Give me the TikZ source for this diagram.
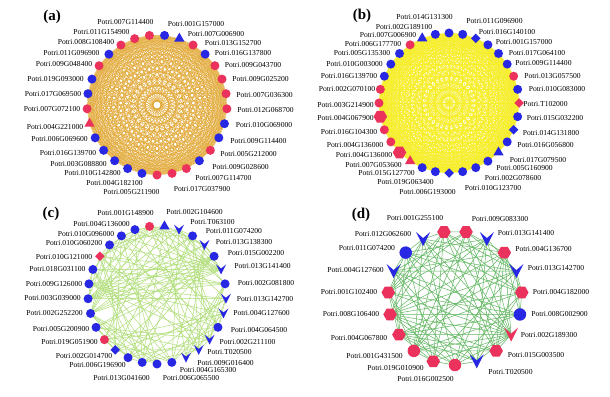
\documentclass[tikz,border=0pt]{standalone}
\usepackage{fontspec}
\setmainfont{Liberation Serif}
\usetikzlibrary{shapes.geometric,calc}
\pgfdeclarelayer{back}
\pgfdeclarelayer{bg}
\pgfsetlayers{back,bg,main}
\definecolor{nr}{RGB}{234,50,92}
\definecolor{nb}{RGB}{40,40,228}
\definecolor{ea}{RGB}{226,168,52}
\definecolor{eb}{RGB}{246,238,40}
\definecolor{ec}{RGB}{176,222,120}
\definecolor{ed}{RGB}{96,182,96}
\tikzset{
  nd/.style={inner sep=0pt, outer sep=0pt, draw=none},
  cir/.style={nd, circle, minimum size=9pt},
  cirL/.style={nd, circle, minimum size=12.5pt},
  tri/.style={nd, regular polygon, regular polygon sides=3, minimum size=12pt},
  dia/.style={nd, diamond, minimum size=9.5pt},
  hex/.style={nd, regular polygon, regular polygon sides=6, minimum size=13.5pt},
  chevshape/.style={nd, rectangle, fill=none, minimum size=10pt,
    path picture={\fill[#1] (path picture bounding box.north west) -- (path picture bounding box.south) -- (path picture bounding box.north east) -- ($(path picture bounding box.center)+(0pt,1pt)$) -- cycle;}},
  chevB/.style={chevshape=nb},
  chevLB/.style={chevshape=nb, minimum size=14pt},
  chevLR/.style={chevshape=nr, minimum size=14pt},
  lab/.style={font=\fontsize{7.6}{8}\selectfont, inner sep=0pt},
  ttl/.style={font=\fontsize{15}{16}\selectfont\bfseries, inner sep=0pt},
  edA/.style={draw=ea, line width=0.35pt},
  edB/.style={draw=eb, line width=0.45pt},
  edC/.style={draw=ec, line width=0.5pt},
  edD/.style={draw=ed, line width=0.5pt},
}
\begin{document}
\begin{tikzpicture}[x=1pt,y=-1pt]
\useasboundingbox (0,0) rectangle (610,396);
\begin{pgfonlayer}{back}
\fill[white] (0,0) rectangle (610,396);
\end{pgfonlayer}

% ---------- panel titles
\node[ttl] (ta) at (52,16.5) {(a)};
\node[ttl] (tb) at (362,16) {(b)};
\node[ttl] (tc) at (51,214) {(c)};
\node[ttl] (td) at (361,215) {(d)};

% ---------- panel (a)
\foreach \s/\c/\t/\lx/\ly [count=\i from 0] in {
 cir/nr/007G114400/125.5/22, cir/nr/011G154900/101.5/32, cir/nr/008G108400/86/42,
 cir/nb/011G096900/71.5/53, cir/nr/009G048400/64/64, cir/nb/019G093000/55.5/79,
 cir/nb/017G069500/53/94, cir/nr/007G072100/52/109, tri/nr/004G221000/55/127,
 cir/nb/006G069600/59.5/139, cir/nb/016G139700/68/153, cir/nb/003G088800/78.5/164,
 cir/nb/010G142800/92.5/173, cir/nb/004G182100/114.5/183, cir/nr/005G211900/131.5/192,
 cir/nr/017G037900/202/189, cir/nr/007G114700/223.5/178, cir/nb/009G028600/240.5/167,
 cir/nr/005G212000/248.5/154, cir/nb/009G114400/258.5/141, cir/nb/010G069000/264/125,
 cir/nr/012G068700/265.5/110, cir/nr/007G036300/264.5/95, cir/nr/009G025200/260.5/79,
 cir/nr/009G043700/253/65, cir/nb/016G137800/243/53, cir/nr/013G152700/233/43,
 tri/nb/007G006900/216/34, cir/nb/001G157000/196/24}{
  \node[fill=\c,\s] (a\i) at ({157+70*cos(96.21+12.414*\i)},{105-70*sin(96.21+12.414*\i)}) {};
  \node[lab] (la\i) at (\lx,\ly) {Potri.\t};
}
\begin{pgfonlayer}{bg}
\foreach \i in {0,...,27}{
  \pgfmathtruncatemacro\ii{\i+1}
  \foreach \j in {\ii,...,28}{\draw[edA] (a\i.center) -- (a\j.center);}
}
\end{pgfonlayer}

% ---------- panel (b)
\foreach \s/\c/\t/\lx/\ly [count=\i from 0] in {
 cir/nb/014G131300/424.5/17, cir/nb/002G189100/404/27, tri/nb/007G006900/388/35,
 cir/nr/006G177700/373/44, cir/nb/005G135300/362/53, cir/nb/010G003000/354.5/64,
 cir/nb/016G139700/349/76, cir/nr/002G070100/347/89, cir/nr/003G214900/345.5/105,
 hex/nr/004G067900/345.5/118, cir/nr/016G104300/349/132, cir/nr/004G136000/355/145,
 hex/nr/004G136000/364/155, tri/nr/007G053600/373.5/165, cir/nb/015G127700/386.5/173,
 cir/nb/019G063400/405.5/182, dia/nb/006G193000/427.5/192, cir/nb/010G123700/493/188,
 cir/nb/002G078600/513/178, cir/nb/005G160900/524.5/168, tri/nb/017G079500/538/160,
 cir/nb/016G056800/545.5/145, dia/nb/014G131800/551/133, cir/nb/015G032200/555/118,
 dia/nr/T102000/545.5/104, cir/nb/010G083000/557/89, cir/nr/013G057500/552.5/76,
 cir/nb/009G114400/543.5/63, cir/nb/017G064100/537/53, cir/nb/001G157000/524/42,
 dia/nb/016G140100/507/32, cir/nb/011G096900/494.5/21}{
  \node[fill=\c,\s] (b\i) at ({449+70*cos(90+11.25*\i)},{103-70*sin(90+11.25*\i)}) {};
  \node[lab] (lb\i) at (\lx,\ly) {Potri.\t};
}
\begin{pgfonlayer}{bg}
\foreach \i in {0,...,30}{
  \pgfmathtruncatemacro\ii{\i+1}
  \foreach \j in {\ii,...,31}{\draw[edB] (b\i.center) -- (b\j.center);}
}
\end{pgfonlayer}

% ---------- panel (c)
\foreach \s/\c/\t/\lx/\ly [count=\i from 0] in {
 cir/nr/001G148900/125.5/213, cir/nb/004G136000/101.5/224, cir/nb/010G096000/86/234,
 cir/nb/010G060200/74/243, dia/nr/010G121000/64/257, cir/nb/018G031100/57.5/269,
 cir/nb/009G126000/54/284, cir/nb/003G039000/52.5/298, cir/nb/002G252200/54.5/313,
 cir/nb/005G200900/61/329, cir/nr/019G051900/69.5/342, dia/nb/002G014700/84/356,
 cir/nb/006G196900/97.5/365, cir/nb/013G041600/121.5/378, cir/nb/006G065500/191/378,
 cir/nb/004G165300/208/370, chevB/nb/009G016400/225.5/363, chevB/nb/T020500/229.5/352,
 chevB/nb/002G211100/247.5/342, cir/nb/004G064500/259/330, chevB/nb/004G127600/261.5/313,
 chevB/nb/013G142700/265/299, cir/nb/002G081800/266/283, chevB/nb/013G141400/262.5/266,
 cir/nb/015G002200/256/253, chevB/nb/013G138300/244/242, cir/nb/011G074200/234/231,
 chevB/nb/T063100/212.5/222, tri/nb/002G104600/194.5/212}{
  \node[fill=\c,\s] (c\i) at ({157+69*cos(96.21+12.414*\i)},{295-69*sin(96.21+12.414*\i)}) {};
  \node[lab] (lc\i) at (\lx,\ly) {Potri.\t};
}
\begin{pgfonlayer}{bg}
\foreach \i in {0,...,27}{
  \pgfmathtruncatemacro\ii{\i+1}
  \foreach \j in {\ii,...,28}{
    \pgfmathtruncatemacro\h{mod(\i*37+\j*53+\i*\j*7,100)}
    \ifnum\h<33 \draw[edC] (c\i.center) -- (c\j.center);\fi
  }
}
\end{pgfonlayer}

% ---------- panel (d)
\foreach \s/\c/\t/\lx/\ly [count=\i from 0] in {
 hex/nr/001G255100/415/218, chevLB/nb/012G062600/383/234, cirL/nb/011G074200/367/248,
 chevLB/nb/004G127600/355.5/270, hex/nr/001G102400/349/292, hex/nr/008G106400/351/314,
 hex/nr/004G067800/359/338, cirL/nr/001G431500/374.5/356, hex/nr/019G010900/395.5/368,
 cirL/nr/016G002500/425.5/379, chevLB/nb/T020500/510.5/372, hex/nr/015G003500/536/355,
 chevLR/nr/002G189300/549/335, cirL/nb/008G002900/559.5/314, hex/nr/004G182000/561/292,
 chevLB/nb/013G142700/556/268, hex/nr/004G136700/543.5/249, chevLB/nb/013G141400/526/233,
 hex/nr/009G083300/500/219}{
  \node[fill=\c,\s] (d\i) at ({455+67*cos(99.47+18.947*\i)},{298-67*sin(99.47+18.947*\i)}) {};
  \node[lab] (ld\i) at (\lx,\ly) {Potri.\t};
}
\begin{pgfonlayer}{bg}
\foreach \i in {0,...,17}{
  \pgfmathtruncatemacro\ii{\i+1}
  \foreach \j in {\ii,...,18}{
    \pgfmathtruncatemacro\h{mod(\i*41+\j*29+\i*\j*13,100)}
    \ifnum\h<55 \draw[edD] (d\i.center) -- (d\j.center);\fi
  }
}
\end{pgfonlayer}
\end{tikzpicture}
\end{document}
